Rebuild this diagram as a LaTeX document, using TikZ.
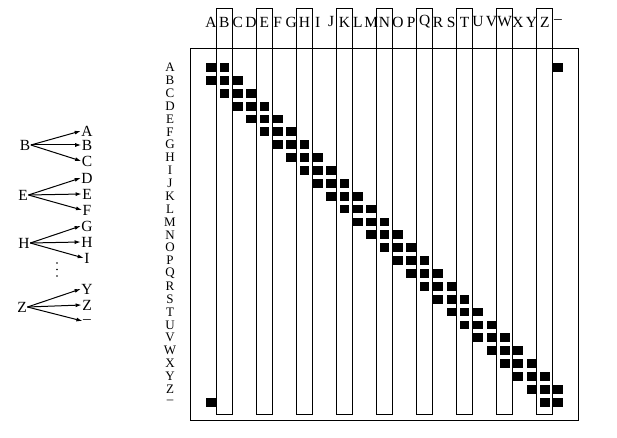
\documentclass[tikz,border=0pt]{standalone}
\usepackage{fontspec}
\setmainfont{Liberation Serif}
\usetikzlibrary{arrows.meta}
\tikzset{
  lbl/.style={inner sep=0.5pt, font=\fontsize{15.5}{15.5}\selectfont},
  collbl/.style={inner sep=0pt, font=\fontsize{15.5}{15.5}\selectfont},
  rowlbl/.style={inner sep=0pt, font=\fontsize{13}{13}\selectfont},
  band/.style={draw, line width=1.3pt},
  frame/.style={draw, line width=1pt},
  arr/.style={-{Latex[length=6pt,width=4pt]}, line width=1pt},
}
\begin{document}
\begin{tikzpicture}[x=1pt,y=-1pt]
\useasboundingbox (0,0) rectangle (617,438);

	  % left: the three-way branching
	  \node[lbl] (B) at (25,145) {B};
	  \node[lbl] (B1) at (87,131) {A};
	  \node[lbl] (B2) at (87,145) {B};
	  \node[lbl] (B3) at (87,161) {C};
	  \node[lbl] (E) at (23,195) {E};
	  \node[lbl] (E1) at (87,178) {D};
	  \node[lbl] (E2) at (87,194) {E};
	  \node[lbl] (E3) at (87,210) {F};
	  \node[lbl] (H) at (24,243) {H};
	  \node[lbl] (H1) at (87,226) {G};
	  \node[lbl] (H2) at (87,242) {H};
	  \node[lbl] (H3) at (87,258) {I};
	  \node[lbl] (Z) at (22,307) {Z};
	  \node[lbl] (Z1) at (87,289) {Y};
	  \node[lbl] (Z2) at (87,305) {Z};
	  \node[lbl] (Z3) at (87,321) {--};

	  \draw[arr] (B.east) -- (B1.west);
	  \draw[arr] (B.east) -- (B2.west);
	  \draw[arr] (B.east) -- (B3.west);
	  \draw[arr] (E.east) -- (E1.west);
	  \draw[arr] (E.east) -- (E2.west);
	  \draw[arr] (E.east) -- (E3.west);
	  \draw[arr] (H.east) -- (H1.west);
	  \draw[arr] (H.east) -- (H2.west);
	  \draw[arr] (H.east) -- (H3.west);
	  \draw[arr] (Z.east) -- (Z1.west);
	  \draw[arr] (Z.east) -- (Z2.west);
	  \draw[arr] (Z.east) -- (Z3.west);

	  % vertical dots
	  \foreach \y in {263,269.5,276}
	    \fill (57,\y) circle (0.9);

	  % right: the band matrix
	  \draw[frame] (190.7,48.3) rectangle (578.3,420);
	  \foreach \j in {1,4,...,25}
	    \draw[band] ({211+13.35*\j-8},8.3) rectangle ({211+13.35*\j+8},414.3);
	  \foreach \c [count=\i from 0] in {A,B,C,D,E,F,G,H,I,J,K,L,M,N,O,P,Q,R,S,T,U,V,W,X,Y,Z,--} {
	    \node[collbl] (c\i) at ({211+13.35*\i},22) {\c};
	    \node[rowlbl] (r\i) at (170,{67.5+12.87*\i}) {\c};
	  }
	  \foreach \i in {0,...,26}
	    \foreach \d in {-1,0,1} {
	      \pgfmathtruncatemacro\j{mod(\i+\d+27,27)}
	      \fill ({211+13.35*\j-4.8},{67.5+12.87*\i-4.4}) rectangle ++(9.6,8.8);
	    }
\end{tikzpicture}
\end{document}
